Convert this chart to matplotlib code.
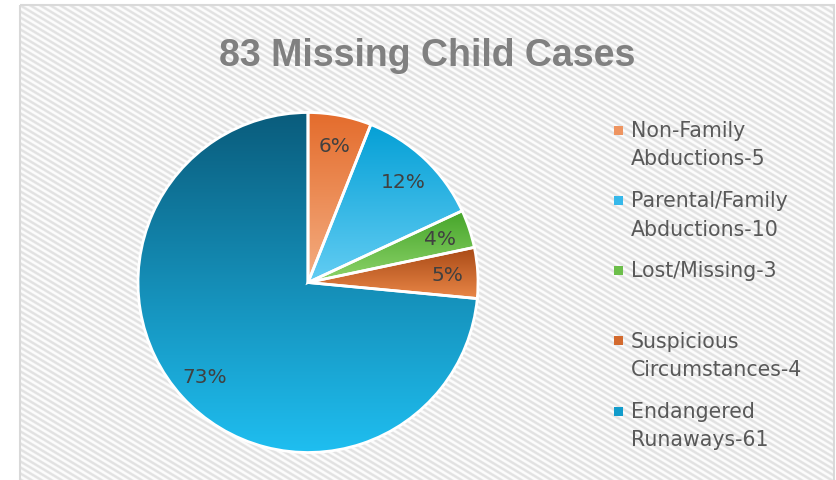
import numpy as np
import matplotlib.pyplot as plt
from matplotlib.colors import LinearSegmentedColormap
from matplotlib.patches import Rectangle

title = '83 Missing Child Cases'
labels = ['Non-Family\nAbductions-5', 'Parental/Family\nAbductions-10', 'Lost/Missing-3',
          'Suspicious\nCircumstances-4', 'Endangered\nRunaways-61']
cases = [5, 10, 3, 4, 61]

# gradient colours per slice (top, bottom) and legend swatches
grads = [('#E46C2C', '#F4AE82'), ('#05A0D6', '#63CDF3'), ('#46A52A', '#8ED46B'),
         ('#A84915', '#EA8748'), ('#0A5C7C', '#1FBEF0')]
swatch = ['#EE9460', '#36B8EA', '#6CBE4A', '#D36A2E', '#129CCB']

W, H = 836, 481
fig = plt.figure(figsize=(W / 100, H / 100), dpi=100)

# background with diagonal stripes
bg = fig.add_axes([0, 0, 1, 1])
xx, yy = np.meshgrid(np.arange(20, W - 2), np.arange(6, H))
wave = 0.5 + 0.5 * np.cos(2 * np.pi * (xx / 10.0 - yy / 6.0))
shade = 0.99 - 0.10 * np.clip(wave * 1.4 - 0.2, 0, 1)
bg.imshow(np.dstack([shade] * 3), extent=(20, W - 2, H, 6), interpolation='nearest', aspect='auto')
bg.add_patch(Rectangle((20, 6), W - 22, H, fill=False, ec='#d9d9d9', lw=1.5))
bg.set_xlim(0, W)
bg.set_ylim(H, 0)
bg.axis('off')

fig.text(427.5 / W, 1 - 66.5 / H, title, ha='center', va='baseline', fontsize=27,
         fontweight='bold', family='Liberation Sans', color='#808080')

# pie
cx, cy, R = 308, 283.5, 170
ax = fig.add_axes([(cx - R * 1.05) / W, 1 - (cy + R * 1.05) / H, 2.1 * R / W, 2.1 * R / H])
wedges, texts, autotexts = ax.pie(cases, startangle=90, counterclock=False, radius=1,
                                  autopct='%.0f%%', pctdistance=0.82,
                                  wedgeprops=dict(ec='white', lw=2),
                                  textprops=dict(fontsize=14.5, color='#404040'))
grad = np.linspace(0, 1, 256).reshape(-1, 1)
for w, (top, bot) in zip(wedges, grads):
    ext = w.get_path().get_extents()
    cmap = LinearSegmentedColormap.from_list('g', [top, bot])
    im = ax.imshow(grad, cmap=cmap, extent=(ext.x0, ext.x1, ext.y0, ext.y1),
                   origin='upper', aspect='auto', zorder=0)
    im.set_clip_path(w)
    w.set_facecolor('none')
ax.set_xlim(-1.05, 1.05)
ax.set_ylim(-1.05, 1.05)
ax.axis('off')

# legend
for i, lab in enumerate(labels):
    my = 131 + 70.25 * i
    bg.add_patch(Rectangle((614, my - 4.5), 9, 9, color=swatch[i], lw=0))
    for j, line in enumerate(lab.split('\n')):
        bg.text(631, my + 6 + 28.3 * j, line, va='baseline', fontsize=14.8, color='#595959')

fig.savefig('out.png', dpi=100)
